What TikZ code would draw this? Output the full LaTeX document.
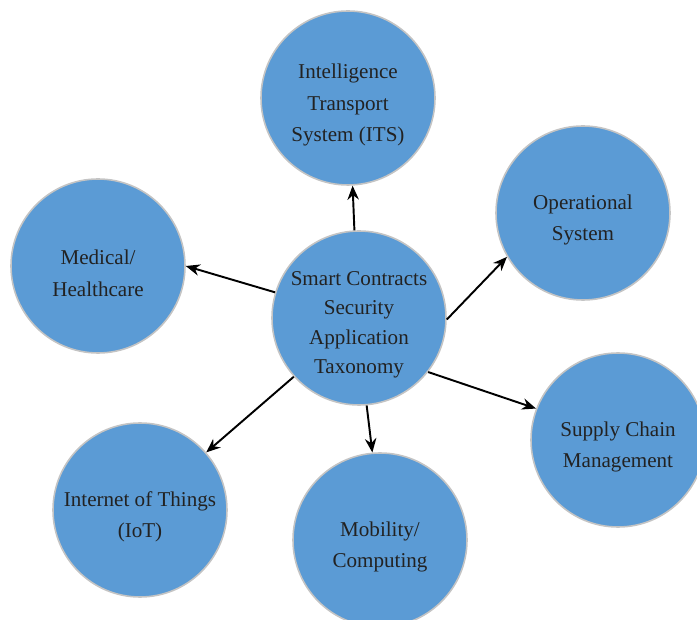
\documentclass[tikz,border=0pt]{standalone}
\usepackage{fontspec}
\setmainfont{Liberation Serif}
\usepackage{tikz}
\usetikzlibrary{arrows.meta,positioning}
\definecolor{bubble}{RGB}{91,155,213}
\definecolor{rim}{RGB}{196,196,196}
\definecolor{ink}{RGB}{34,34,34}
\tikzset{
  topic/.style={circle,draw=rim,line width=0.9pt,fill=bubble,minimum size=3.48cm,inner sep=0pt},
  caption/.style={align=center,text=ink,yshift=-0.14cm,font=\fontsize{12}{18}\selectfont},
  link/.style={->,>={Stealth[length=8pt,width=6.5pt]},line width=1.1pt}
}
\begin{document}
\begin{tikzpicture}
\useasboundingbox (0,0) rectangle (13.94,12.38);
\node[topic,label={[caption,font=\fontsize{12}{16.8}\selectfont]center:Smart Contracts\\Security\\Application\\Taxonomy}] (ctr) at (7.18,6.02) {};
\node[topic,label={[caption]center:Intelligence\\Transport\\System (ITS)}] (its) at (6.96,10.42) {};
\node[topic,label={[caption]center:Operational\\System}] (ops) at (11.66,8.12) {};
\node[topic,label={[caption]center:Medical/\\Healthcare}] (med) at (1.96,7.06) {};
\node[topic,label={[caption]center:Supply Chain\\Management}] (scm) at (12.36,3.58) {};
\node[topic,label={[caption]center:Mobility/\\Computing}] (mob) at (7.60,1.58) {};
\node[topic,label={[caption]center:Internet of Things\\(IoT)}] (iot) at (2.80,2.18) {};

\draw[link] (ctr.93) -- (its.273);
\draw[link] (ctr.163) -- (med.0);
\draw[link] (ctr.-1) -- (ops.210);
\draw[link] (ctr.-38) -- (scm.159);
\draw[link] (ctr.275) -- (mob.95);
\draw[link] (ctr.222) -- (iot.41);
\end{tikzpicture}
\end{document}
